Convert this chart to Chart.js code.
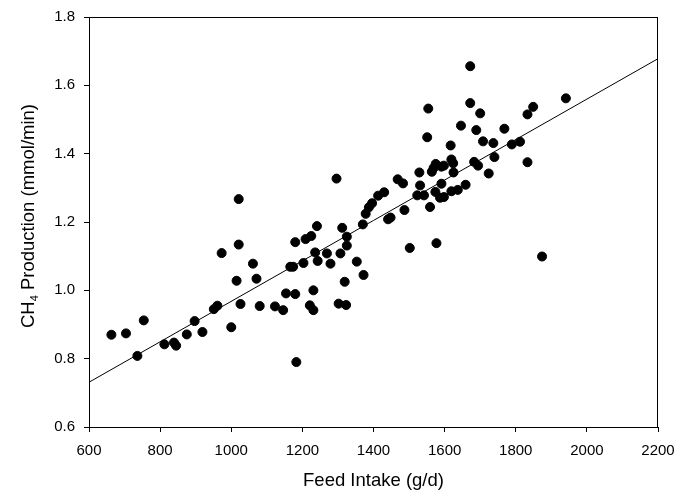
<!DOCTYPE html>
<html>
<head>
<meta charset="utf-8">
<script src="https://cdn.jsdelivr.net/npm/chart.js@4/dist/chart.umd.min.js"></script>
<style>
  html, body { margin: 0; padding: 0; background: #fff; }
  #wrap { width: 675px; height: 493px; }
</style>
</head>
<body>
<div id="wrap"><canvas id="myChart" width="675" height="493"></canvas></div>
<script>
// feed intake (g/d) and CH4 production (mmol/min)
const feedIntake = [663, 704, 754, 736, 812, 839, 845, 875, 897, 919,
    951, 961, 973, 1000, 1015, 1021, 1021, 1026, 1061, 1071,
    1080, 1123, 1146, 1154, 1166, 1174, 1180, 1180, 1183, 1203,
    1209, 1225, 1221, 1231, 1231, 1236, 1241, 1243, 1269, 1279,
    1296, 1302, 1307, 1312, 1319, 1323, 1325, 1325, 1353, 1372,
    1370, 1378, 1387, 1396, 1413, 1430, 1441, 1448, 1468, 1483,
    1487, 1502, 1523, 1529, 1531, 1542, 1551, 1554, 1559, 1564,
    1569, 1575, 1574, 1577, 1587, 1591, 1591, 1598, 1598, 1617,
    1619, 1619, 1624, 1625, 1637, 1646, 1659, 1672, 1672, 1683,
    1689, 1694, 1700, 1708, 1724, 1737, 1740, 1768, 1789, 1812,
    1833, 1833, 1849, 1874, 1941];
const ch4 = [0.870, 0.874, 0.912, 0.808, 0.842, 0.847, 0.838, 0.871, 0.910, 0.878,
    0.945, 0.955, 1.109, 0.892, 1.028, 1.267, 1.134, 0.960, 1.078, 1.034,
    0.954, 0.953, 0.942, 0.991, 1.069, 1.069, 1.141, 0.989, 0.790, 1.080,
    1.150, 1.159, 0.956, 1.000, 0.942, 1.111, 1.188, 1.086, 1.108, 1.078,
    1.327, 0.961, 1.108, 1.183, 1.025, 0.957, 1.157, 1.131, 1.084, 1.045,
    1.193, 1.224, 1.243, 1.255, 1.277, 1.287, 1.208, 1.213, 1.325, 1.313,
    1.235, 1.124, 1.278, 1.345, 1.307, 1.278, 1.448, 1.532, 1.244, 1.347,
    1.358, 1.370, 1.288, 1.138, 1.271, 1.312, 1.362, 1.273, 1.365, 1.424,
    1.383, 1.290, 1.372, 1.345, 1.294, 1.482, 1.309, 1.656, 1.548, 1.376,
    1.469, 1.365, 1.518, 1.436, 1.342, 1.431, 1.390, 1.473, 1.427, 1.435,
    1.375, 1.515, 1.537, 1.099, 1.562];

// regression line end points
const fitX = [600, 2200];
const fitY = [0.731, 1.678];

const xTicks = [600, 800, 1000, 1200, 1400, 1600, 1800, 2000, 2200];
const yTicks = [0.6, 0.8, 1.0, 1.2, 1.4, 1.6, 1.8];

const FONT = '"Liberation Sans", Arial, sans-serif';

// box round the plot + axis titles (CH4 needs a real subscript)
const framePlugin = {
    id: 'frame',
    afterDraw(chart) {
        const ctx = chart.ctx;
        const a = chart.chartArea;
        ctx.save();
        ctx.strokeStyle = '#000';
        ctx.lineWidth = 1;
        ctx.strokeRect(a.left + 0.5, a.top + 0.5, a.right - a.left - 1, a.bottom - a.top);

        ctx.fillStyle = '#000';
        // x title
        ctx.font = '18.5px ' + FONT;
        ctx.textAlign = 'center';
        ctx.textBaseline = 'middle';
        ctx.fillText('Feed Intake (g/d)', (a.left + a.right) / 2, 481);

        // y title, rotated
        const p1 = 'CH', p2 = '4', p3 = ' Production (mmol/min)';
        ctx.font = '18.5px ' + FONT;
        const w1 = ctx.measureText(p1).width;
        const w3 = ctx.measureText(p3).width;
        ctx.font = '11px ' + FONT;
        const w2 = ctx.measureText(p2).width;
        const total = w1 + w2 + w3;
        ctx.translate(29, 216);
        ctx.rotate(-Math.PI / 2);
        ctx.textAlign = 'left';
        ctx.textBaseline = 'middle';
        let x = -total / 2;
        ctx.font = '18.5px ' + FONT;
        ctx.fillText(p1, x, 0);
        x += w1;
        ctx.font = '11px ' + FONT;
        ctx.fillText(p2, x, 6);
        x += w2;
        ctx.font = '18.5px ' + FONT;
        ctx.fillText(p3, x, 0);
        ctx.restore();
    }
};

const ctx = document.getElementById('myChart').getContext('2d');
const myChart = new Chart(ctx, {
    type: 'scatter',
    data: {
        datasets: [{
            label: 'CH4',
            data: feedIntake.map((v, i) => ({ x: v, y: ch4[i] })),
            backgroundColor: '#000',
            borderColor: '#000',
            borderWidth: 1,
            pointRadius: 4.5,
            order: 1
        },
        {
            type: 'line',
            label: 'Fit',
            data: fitX.map((v, i) => ({ x: v, y: fitY[i] })),
            borderColor: '#000',
            borderWidth: 1,
            pointRadius: 0,
            fill: false,
            order: 2
        }]
    },
    options: {
        responsive: false,
        animation: false,
        layout: { padding: { left: 0, right: 17, top: 17, bottom: 0 } },
        plugins: {
            legend: { display: false },
            tooltip: { enabled: false }
        },
        scales: {
            x: {
                type: 'linear',
                min: 600,
                max: 2200,
                afterBuildTicks: axis => { axis.ticks = xTicks.map(v => ({ value: v })); },
                afterFit: axis => { axis.height = 66; axis.paddingRight = 0; axis.paddingLeft = 0; },
                ticks: {
                    color: '#000',
                    font: { family: FONT, size: 15 },
                    padding: 10,
                    maxRotation: 0,
                    callback: v => String(v)
                },
                grid: { drawOnChartArea: false, drawTicks: true, tickLength: 5, color: '#000' },
                border: { display: true, color: '#000', width: 1 }
            },
            y: {
                type: 'linear',
                min: 0.6,
                max: 1.8,
                afterBuildTicks: axis => { axis.ticks = yTicks.map(v => ({ value: v })); },
                afterFit: axis => { axis.width = 89; axis.paddingTop = 0; axis.paddingBottom = 0; },
                ticks: {
                    color: '#000',
                    font: { family: FONT, size: 15 },
                    padding: 9,
                    callback: v => v.toFixed(1)
                },
                grid: { drawOnChartArea: false, drawTicks: true, tickLength: 5, color: '#000' },
                border: { display: true, color: '#000', width: 1 }
            }
        }
    },
    plugins: [framePlugin]
});
</script>
</body>
</html>
